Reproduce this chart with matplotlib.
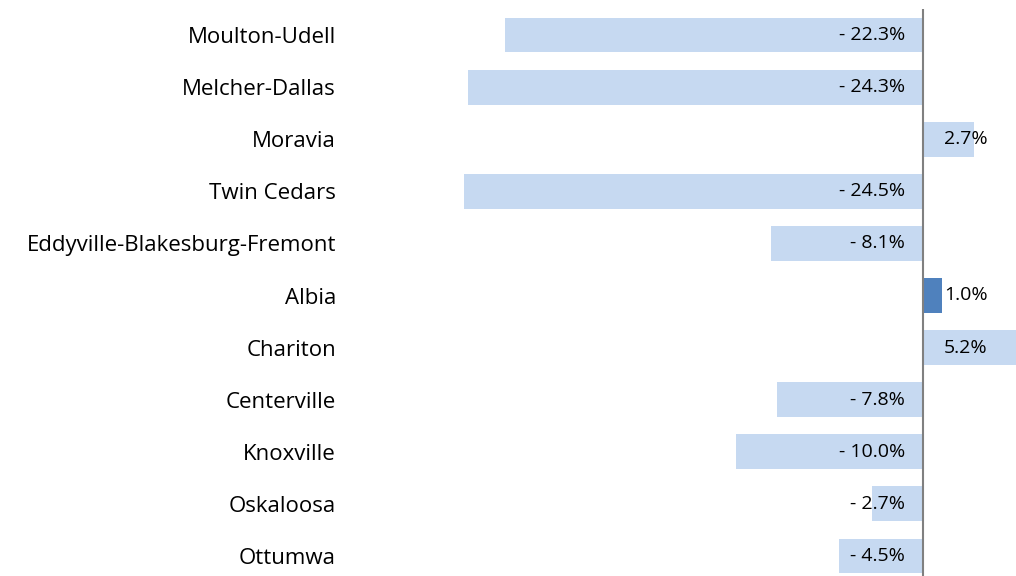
#!/usr/bin/env python3
"""Horizontal bar chart: percent change by school district."""

import matplotlib
matplotlib.use("Agg")
import matplotlib.pyplot as plt

DISTRICTS = [
    "Moulton-Udell",
    "Melcher-Dallas",
    "Moravia",
    "Twin Cedars",
    "Eddyville-Blakesburg-Fremont",
    "Albia",
    "Chariton",
    "Centerville",
    "Knoxville",
    "Oskaloosa",
    "Ottumwa",
]
PCT_CHANGE = [-22.3, -24.3, 2.7, -24.5, -8.1, 1.0, 5.2, -7.8, -10.0, -2.7, -4.5]
HIGHLIGHT = "Albia"

BAR_LIGHT = "#C6D9F1"
BAR_DARK = "#4F81BD"
AXIS_GRAY = "#808080"
FONT = ["Open Sans", "DejaVu Sans"]


def fmt_pct(v: float) -> str:
    return f"- {abs(v):.1f}%" if v < 0 else f"{v:.1f}%"


def main() -> None:
    plt.rcParams["font.family"] = FONT
    fig = plt.figure(figsize=(10.16, 5.76), dpi=100)
    # axes spans px 350..1016 horizontally, 9..582 vertically (bottom runs off the canvas)
    ax = fig.add_axes([350 / 1016, -6 / 576, 666 / 1016, 573 / 576])

    y = list(range(len(DISTRICTS)))
    colors = [BAR_DARK if d == HIGHLIGHT else BAR_LIGHT for d in DISTRICTS]
    ax.barh(y, PCT_CHANGE, height=0.67, color=colors, edgecolor="none", zorder=2)
    ax.axvline(0, color=AXIS_GRAY, linewidth=1.5, zorder=3)

    for yi, v in zip(y, PCT_CHANGE):
        if v < 0:
            ax.annotate(fmt_pct(v), xy=(0, yi), xytext=(-13, 0), textcoords="offset points",
                        ha="right", va="center", fontsize=14, color="black", zorder=4)
        else:
            ax.annotate(fmt_pct(v), xy=(0, yi), xytext=(15, 0), textcoords="offset points",
                        ha="left", va="center", fontsize=14, color="black", zorder=4)

    ax.set_xlim(-(923 - 350) / 18.73, (1016 - 923) / 18.73)
    ax.set_ylim(len(DISTRICTS) - 0.5, -0.5)
    ax.set_yticks(y)
    ax.set_yticklabels(DISTRICTS, fontsize=16)
    ax.tick_params(axis="y", length=0, pad=10)
    ax.set_xticks([])
    for s in ax.spines.values():
        s.set_visible(False)

    fig.savefig("out.png", dpi=100)
    plt.close(fig)


if __name__ == "__main__":
    main()
